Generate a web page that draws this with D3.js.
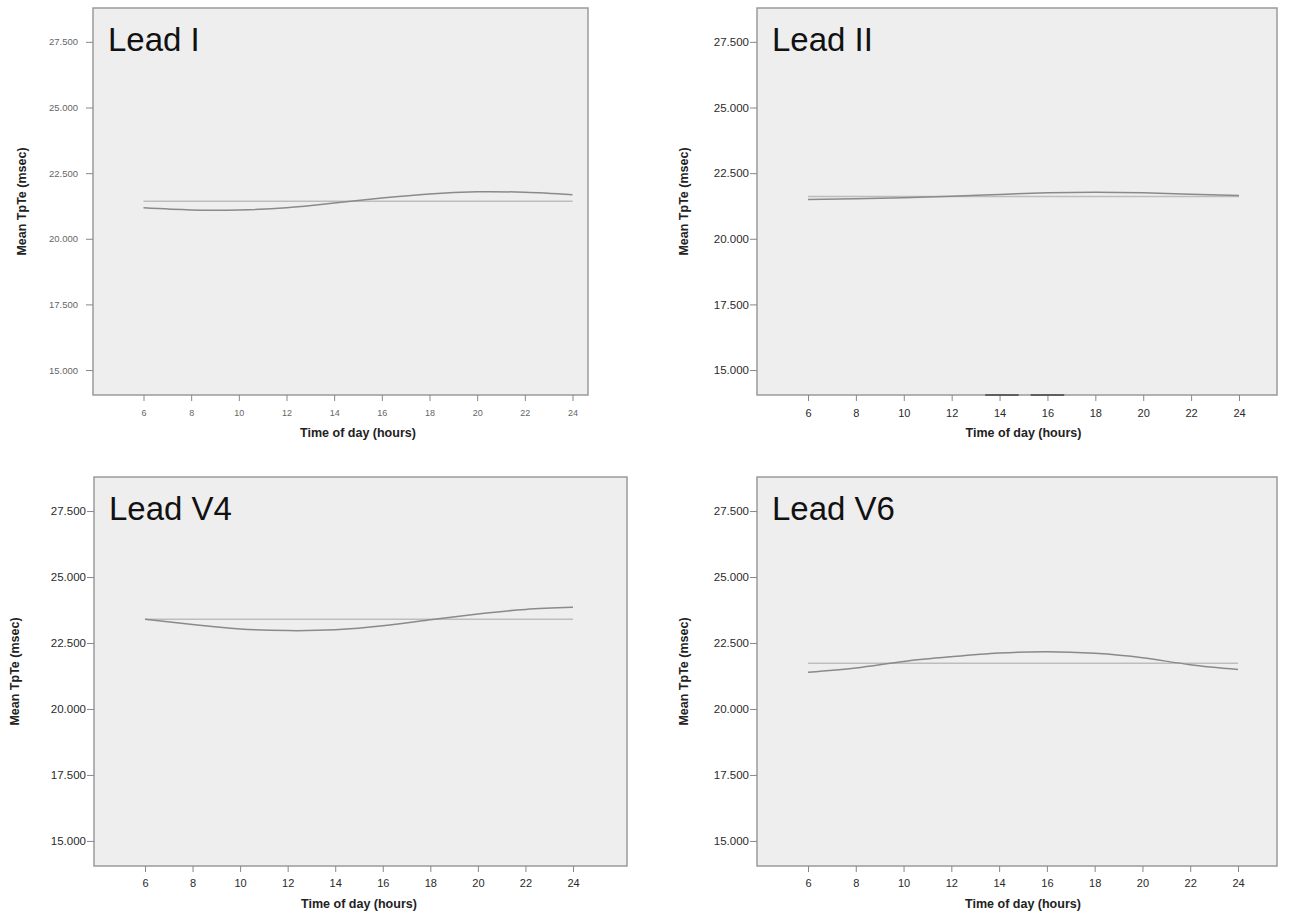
<!DOCTYPE html>
<html>
<head>
<meta charset="utf-8">
<script src="https://cdn.jsdelivr.net/npm/d3@7"></script>
<style>
  body { margin: 0; background: #fff; }
  svg { display: block; }
  text { font-family: "Liberation Sans", Arial, sans-serif; }
</style>
</head>
<body>
<svg id="chart" width="1292" height="914"></svg>
<script>
// hours of the day the fitted curves are read at
var hours = [6, 8, 10, 12, 14, 16, 18, 20, 22, 24];

// fitted cosinor curves, mean TpTe (msec)
var leadI  = [21.18, 21.10, 21.10, 21.18, 21.36, 21.55, 21.71, 21.79, 21.77, 21.68];
var leadII = [21.50, 21.52, 21.56, 21.62, 21.69, 21.75, 21.77, 21.75, 21.70, 21.65];
var leadV4 = [23.40, 23.20, 23.03, 22.97, 23.00, 23.15, 23.38, 23.60, 23.77, 23.85];
var leadV6 = [21.39, 21.55, 21.80, 21.98, 22.12, 22.17, 22.11, 21.94, 21.68, 21.50];

// mesor (flat reference line) per lead
var mesors = [21.43, 21.61, 23.40, 21.73];

var titles = ['Lead I', 'Lead II', 'Lead V4', 'Lead V6'];
var xTicks = [6, 8, 10, 12, 14, 16, 18, 20, 22, 24];
var yTicks = [15, 17.5, 20, 22.5, 25, 27.5];
var yDomain = [14.05, 28.79];

// dark specks sitting on the bottom edge of the Lead II panel
var leadIIMarks = [[13.4, 14.8], [15.3, 16.7]];

var series = [leadI, leadII, leadV4, leadV6];

// panel geometry (pixels)
var panels = [
  { left: 93,  right: 588,  top: 8,   bottom: 395, x6: 143.5, x24: 572.5, ylab: 22,  tickFont: 9.5,  xTickFont: 9,  tickColor: '#666', gap: 8, xgap: 9 },
  { left: 757, right: 1277, top: 8,   bottom: 395, x6: 808,   x24: 1239,  ylab: 684, tickFont: 11.5, xTickFont: 11, tickColor: '#2a2a2a', gap: 1, xgap: 8 },
  { left: 94,  right: 627,  top: 477, bottom: 866, x6: 145,   x24: 573,   ylab: 15,  tickFont: 11.5, xTickFont: 11, tickColor: '#2a2a2a', gap: 1, xgap: 7 },
  { left: 757, right: 1277, top: 477, bottom: 866, x6: 808,   x24: 1238,  ylab: 684, tickFont: 11.5, xTickFont: 11, tickColor: '#2a2a2a', gap: 1, xgap: 7 }
];

var svg = d3.select('#chart');
var fmt = d3.format('.3f');

panels.forEach(function (p, i) {

  var x = d3.scaleLinear()
      .domain([6, 24])
      .range([p.x6, p.x24]);

  var y = d3.scaleLinear()
      .domain(yDomain)
      .range([p.bottom, p.top]);

  var g = svg.append('g');

  g.append('rect')
      .attr('x', p.left)
      .attr('y', p.top)
      .attr('width', p.right - p.left)
      .attr('height', p.bottom - p.top)
      .attr('fill', '#eeeeee')
      .attr('stroke', '#9a9a9a')
      .attr('stroke-width', 1.5);

  // y axis
  var yAxis = d3.axisLeft(y)
      .tickValues(yTicks)
      .tickFormat(fmt)
      .tickSize(7)
      .tickPadding(p.gap);

  var ya = g.append('g')
      .attr('transform', 'translate(' + p.left + ',0)')
      .call(yAxis);
  ya.select('.domain').remove();
  ya.selectAll('line').attr('stroke', '#888');
  ya.selectAll('text')
      .attr('font-size', p.tickFont)
      .attr('fill', p.tickColor)
      .style('font-family', '"Liberation Sans", Arial, sans-serif');

  // x axis
  var xAxis = d3.axisBottom(x)
      .tickValues(xTicks)
      .tickSize(6)
      .tickPadding(p.xgap);

  var xa = g.append('g')
      .attr('transform', 'translate(0,' + p.bottom + ')')
      .call(xAxis);
  xa.select('.domain').remove();
  xa.selectAll('line').attr('stroke', '#888');
  xa.selectAll('text')
      .attr('font-size', p.xTickFont)
      .attr('fill', p.tickColor)
      .style('font-family', '"Liberation Sans", Arial, sans-serif');

  // mesor line
  g.append('line')
      .attr('x1', x(hours[0]))
      .attr('x2', x(hours[hours.length - 1]))
      .attr('y1', y(mesors[i]))
      .attr('y2', y(mesors[i]))
      .attr('stroke', '#bdbdbd')
      .attr('stroke-width', 1.6);

  // fitted curve
  var line = d3.line()
      .x(function (d, k) { return x(hours[k]); })
      .y(function (d) { return y(d); })
      .curve(d3.curveNatural);

  g.append('path')
      .datum(series[i])
      .attr('d', line)
      .attr('fill', 'none')
      .attr('stroke', '#8a8a8a')
      .attr('stroke-width', 1.5);

  if (i === 1) {
    g.selectAll('.speck')
        .data(leadIIMarks)
        .enter()
      .append('line')
        .attr('x1', function (d) { return x(d[0]); })
        .attr('x2', function (d) { return x(d[1]); })
        .attr('y1', p.bottom)
        .attr('y2', p.bottom)
        .attr('stroke', '#444')
        .attr('stroke-width', 1.5);
  }

  // title
  g.append('text')
      .attr('x', p.left + 15)
      .attr('y', p.top + 43)
      .attr('font-size', 33)
      .attr('fill', '#111')
      .text(titles[i]);

  // axis titles
  g.append('text')
      .attr('x', x(15))
      .attr('y', p.bottom + 42)
      .attr('text-anchor', 'middle')
      .attr('font-size', 12.5)
      .attr('font-weight', 'bold')
      .attr('fill', '#222')
      .text('Time of day (hours)');

  g.append('text')
      .attr('transform', 'translate(' + (p.ylab + 4) + ',' + ((p.top + p.bottom) / 2) + ') rotate(-90)')
      .attr('text-anchor', 'middle')
      .attr('font-size', 12.5)
      .attr('font-weight', 'bold')
      .attr('fill', '#222')
      .text('Mean TpTe (msec)');
});
</script>
</body>
</html>
